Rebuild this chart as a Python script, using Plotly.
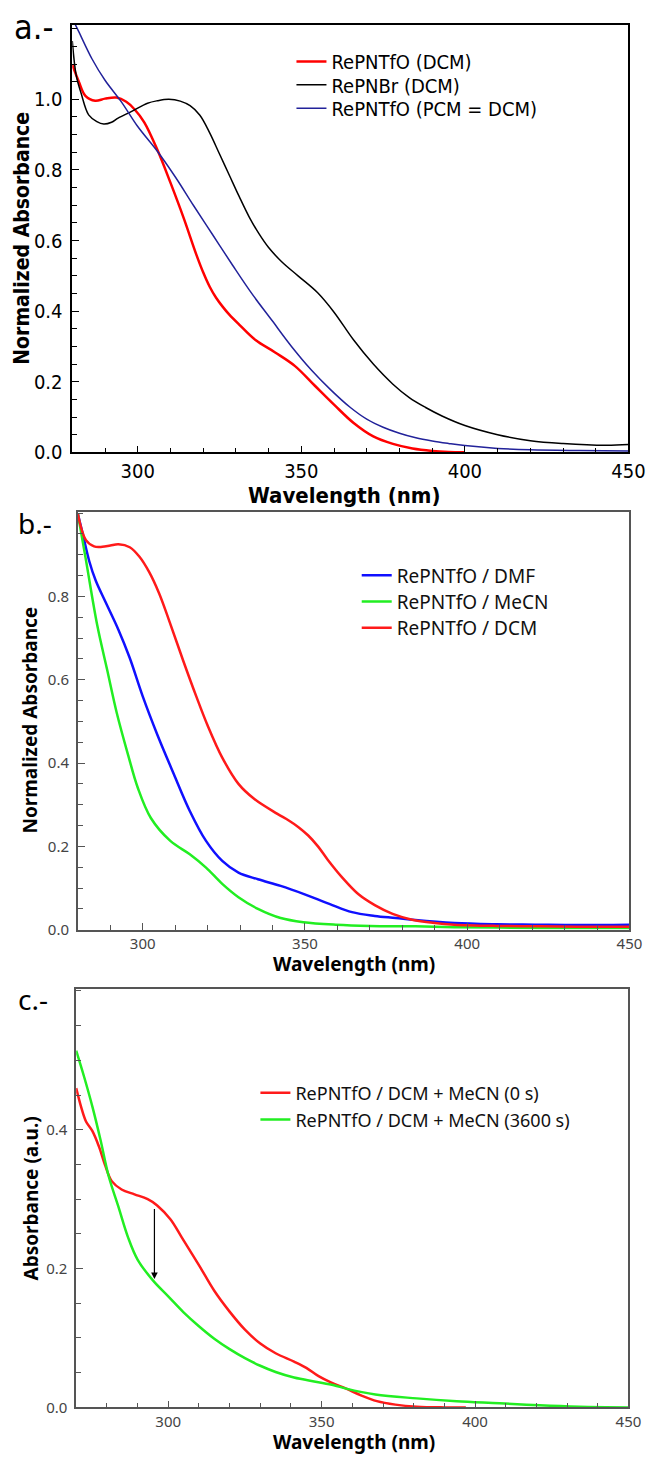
import plotly.graph_objects as go

W, H = 656, 1459

# ---- panel a: normalized absorbance, DCM ----
a_red_wl = [280, 282, 284, 287, 290, 293.5, 296.5, 299, 302, 306, 310, 314, 318, 320, 322, 324, 326, 328,
            331, 336, 342, 348, 354, 360, 366, 372, 378, 384, 390, 395, 400]
a_red = [1.098, 1.05, 1.01, 0.996, 1.002, 1.005, 0.993, 0.972, 0.935, 0.857, 0.764, 0.665, 0.558, 0.51,
         0.469, 0.437, 0.412, 0.39, 0.362, 0.318, 0.283, 0.245, 0.19, 0.135, 0.083, 0.045, 0.024, 0.011,
         0.004, 0.001, 0.0]

a_blk_wl = [280, 281.2, 282.7, 285, 287.5, 289.6, 292, 294, 298, 303, 306, 309.5, 313, 316, 319, 322, 325,
            328, 331, 334, 337, 340, 344, 349, 355, 360, 366, 372, 378, 383, 388, 393, 400, 410, 420, 430,
            443, 450]
a_blk = [1.165, 1.068, 1.017, 0.956, 0.937, 0.930, 0.935, 0.947, 0.965, 0.989, 0.996, 1.0, 0.995, 0.982,
         0.955, 0.905, 0.845, 0.785, 0.725, 0.668, 0.62, 0.58, 0.54, 0.5, 0.452, 0.397, 0.318, 0.25, 0.193,
         0.155, 0.127, 0.103, 0.076, 0.05, 0.033, 0.025, 0.02, 0.022]

a_blu_wl = [280, 281.5, 286, 290, 295, 300, 306, 311.5, 317, 323, 329, 335, 341, 347, 353, 359, 365, 370,
            375, 380, 385, 390, 395, 400, 410, 420, 435, 450]
a_blu = [1.228, 1.201, 1.115, 1.054, 0.993, 0.923, 0.853, 0.78, 0.70, 0.615, 0.53, 0.448, 0.374, 0.30,
         0.234, 0.177, 0.127, 0.094, 0.071, 0.054, 0.041, 0.032, 0.025, 0.019, 0.011, 0.007, 0.005, 0.004]

# ---- panel b: solvent series ----
b_dmf_wl = [280, 281.5, 283.5, 285.5, 288.5, 292.5, 296, 300, 304.5, 309.5, 314.5, 319.5, 324.5, 329.5,
            335.5, 342.5, 349.5, 357.5, 364.5, 371.5, 378, 384, 396, 409, 421, 434, 450]
b_dmf = [0.998, 0.95, 0.885, 0.838, 0.787, 0.72, 0.652, 0.56, 0.468, 0.375, 0.285, 0.213, 0.165, 0.137,
         0.121, 0.105, 0.086, 0.062, 0.042, 0.033, 0.028, 0.023, 0.016, 0.013, 0.012, 0.011, 0.012]

b_mecn_wl = [280, 282.5, 286, 289, 292, 295.5, 298.5, 302.5, 308.5, 314.5, 319.5, 324.5, 329.5, 335.5,
             342.5, 349.5, 359.5, 370, 384, 396, 410, 430, 450]
b_mecn = [0.998, 0.887, 0.73, 0.625, 0.52, 0.419, 0.34, 0.268, 0.213, 0.181, 0.149, 0.11, 0.078, 0.05,
          0.028, 0.018, 0.012, 0.009, 0.008, 0.006, 0.005, 0.004, 0.004]

b_dcm_wl = [280, 282.5, 285, 287.5, 290, 292.5, 296, 299, 302, 305, 308, 312.5, 316.5, 320, 324.5, 329.5,
            334.5, 341.5, 345, 348, 351, 354, 357, 361.5, 366.5, 371.5, 377, 383, 390, 396, 409, 421, 434,
            450]
b_dcm = [0.998, 0.935, 0.92, 0.919, 0.922, 0.925, 0.918, 0.895, 0.858, 0.808, 0.745, 0.645, 0.56, 0.49,
         0.413, 0.35, 0.313, 0.278, 0.262, 0.246, 0.226, 0.2, 0.168, 0.125, 0.085, 0.059, 0.038, 0.024,
         0.016, 0.012, 0.009, 0.008, 0.007, 0.007]

# ---- panel c: DCM + MeCN kinetics ----
c_0s_wl = [270, 271.6, 273.2, 275.3, 277.4, 279.5, 281.6, 284.8, 289, 293.3, 296.4, 300.7, 304.4, 310, 315,
           320, 325, 330, 335, 341, 345, 349, 353, 358, 363, 368, 374, 381, 390, 397]
c_0s = [0.46, 0.433, 0.412, 0.398, 0.376, 0.348, 0.326, 0.314, 0.307, 0.30, 0.291, 0.271, 0.245, 0.205,
        0.168, 0.138, 0.112, 0.092, 0.078, 0.066, 0.057, 0.045, 0.036, 0.027, 0.017, 0.009, 0.004, 0.001,
        0.0, 0.0]

c_3600s_wl = [270, 272.6, 275.3, 277.9, 280.6, 283.7, 286.9, 290, 295, 300, 305, 310, 315, 320, 325, 330,
              335, 341, 348, 354, 358, 367.5, 381, 394, 408, 421, 434, 450]
c_3600s = [0.514, 0.476, 0.433, 0.386, 0.333, 0.29, 0.245, 0.213, 0.183, 0.16, 0.137, 0.117, 0.099, 0.084,
           0.071, 0.06, 0.051, 0.043, 0.037, 0.032, 0.027, 0.0185, 0.013, 0.009, 0.006, 0.003, 0.001, 0.0]

arrow_wl = 295.5
arrow_from, arrow_to = 0.288, 0.185


def px_x(p):
    return p / W


def px_y(p):
    return 1 - p / H


A_FONT = 'DejaVu Sans Condensed'
B_FONT = 'Noto Sans'

fig = go.Figure()

# name, x, y, color, width, axes, legend id, legend text start px, legend row px
series = [
    ('RePNTfO (DCM)', a_red_wl, a_red, '#ff0000', 2.5, ('x', 'y'), 'legend', 333, 54),
    ('RePNBr (DCM)', a_blk_wl, a_blk, '#000000', 1.5, ('x', 'y'), 'legend2', 333, 77.5),
    ('RePNTfO (PCM = DCM)', a_blu_wl, a_blu, '#22229a', 1.5, ('x', 'y'), 'legend3', 333, 101),
    ('RePNTfO / DMF', b_dmf_wl, b_dmf, '#1010ff', 2.5, ('x2', 'y2'), 'legend4', 400, 572),
    ('RePNTfO / MeCN', b_mecn_wl, b_mecn, '#22ee22', 2.5, ('x2', 'y2'), 'legend5', 400, 598.5),
    ('RePNTfO / DCM', b_dcm_wl, b_dcm, '#ff1a1a', 2.5, ('x2', 'y2'), 'legend6', 400, 625),
    ('RePNTfO / DCM + MeCN (0 s)', c_0s_wl, c_0s, '#ff1a1a', 2.5, ('x3', 'y3'), 'legend7', 296, 1094),
    ('RePNTfO / DCM + MeCN (3600 s)', c_3600s_wl, c_3600s, '#22ee22', 2.5, ('x3', 'y3'), 'legend8', 296, 1121),
]

legends = {}
for name, xs, ys, color, width, (xa, ya), leg, lx, ly in series:
    fig.add_trace(go.Scatter(x=xs, y=ys, name=name, mode='lines', line_shape='spline',
                             line=dict(color=color, width=width), xaxis=xa, yaxis=ya, legend=leg))
    top = xa == 'x'
    legends[leg] = dict(x=px_x(lx - 42), y=px_y(ly), xanchor='left', yanchor='middle',
                        bgcolor='rgba(0,0,0,0)', visible=True,
                        font=dict(family=A_FONT if top else B_FONT,
                                  size=20 if top else (19 if xa == 'x2' else 18),
                                  color='#000' if top else '#111'))


def xax(dom, rng, anchor, font, color, lcolor, size):
    return dict(domain=dom, range=rng, anchor=anchor, dtick=50, ticks='inside', ticklen=7,
                tickcolor=lcolor, showline=True, linecolor=lcolor, linewidth=1.6, mirror=True,
                showgrid=False, zeroline=False, tickfont=dict(family=font, size=size, color=color),
                minor=dict(dtick=10, ticks='inside', ticklen=5, tickcolor=lcolor, showgrid=False))


def yax(dom, rng, vals, anchor, font, color, lcolor, size):
    return dict(domain=dom, range=rng, anchor=anchor, tickmode='array', tickvals=vals,
                ticktext=[f'{v:.1f}' for v in vals], ticks='inside', ticklen=7, tickcolor=lcolor,
                ticklabelstandoff=4,
                showline=True, linecolor=lcolor, linewidth=1.6, mirror=True, showgrid=False,
                zeroline=False, tickfont=dict(family=font, size=size, color=color),
                minor=dict(tickmode='linear', tick0=0, dtick=0.05, ticks='inside', ticklen=5,
                           tickcolor=lcolor, showgrid=False))


fig.update_layout(
    width=W, height=H,
    margin=dict(l=0, r=0, t=0, b=0),
    showlegend=True,
    plot_bgcolor='white', paper_bgcolor='white',
    xaxis=xax([px_x(66), px_x(637)], [280, 450], 'y', A_FONT, '#000', '#000', 20),
    yaxis=yax([px_y(448), px_y(17)], [0, 1.211], [0, 0.2, 0.4, 0.6, 0.8, 1.0], 'x', A_FONT, '#000', '#000', 20),
    xaxis2=xax([px_x(71.7), px_x(638)], [280, 450], 'y2', B_FONT, '#444', '#555', 15),
    yaxis2=yax([px_y(929.3), px_y(508)], [0, 1.003], [0, 0.2, 0.4, 0.6, 0.8], 'x2', B_FONT, '#444', '#555', 15),
    xaxis3=xax([px_x(70), px_x(637)], [270, 450], 'y3', B_FONT, '#444', '#555', 15),
    yaxis3=yax([px_y(1411), px_y(989)], [0, 0.603], [0, 0.2, 0.4], 'x3', B_FONT, '#444', '#555', 15),
    **legends,
)

titles = [
    # text, x px, y px, angle, font, size
    ('Wavelength (nm)', 345, 492, 0, A_FONT, 22),
    ('Normalized Absorbance', 14, 232, -90, A_FONT, 21),
    ('Wavelength (nm)', 355, 964, 0, B_FONT, 19),
    ('Normalized Absorbance', 23, 718, -90, B_FONT, 19),
    ('Wavelength (nm)', 355, 1446, 0, B_FONT, 19),
    ('Absorbance (a.u.)', 24, 1200, -90, B_FONT, 19),
]
for text, x, y, ang, fam, size in titles:
    fig.add_annotation(text=text, x=px_x(x), y=px_y(y), xref='paper', yref='paper', showarrow=False,
                       textangle=ang, xanchor='center', yanchor='middle',
                       font=dict(family=fam, size=size, color='#000', weight='bold'))

for text, x, y, fam, size in [('a.-', 4, 19, A_FONT, 34), ('b.-', 8, 519, B_FONT, 28),
                              ('c.-', 8, 999, B_FONT, 28)]:
    fig.add_annotation(text=text, x=px_x(x), y=px_y(y), xref='paper', yref='paper', showarrow=False,
                       xanchor='left', yanchor='middle', font=dict(family=fam, size=size, color='#000'))

fig.add_annotation(x=arrow_wl, y=arrow_to, ax=arrow_wl, ay=arrow_from, xref='x3', yref='y3',
                   axref='x3', ayref='y3', text='', showarrow=True, arrowhead=2, arrowsize=1.1,
                   arrowwidth=1.2, arrowcolor='#000')

fig.write_html('out.html')
